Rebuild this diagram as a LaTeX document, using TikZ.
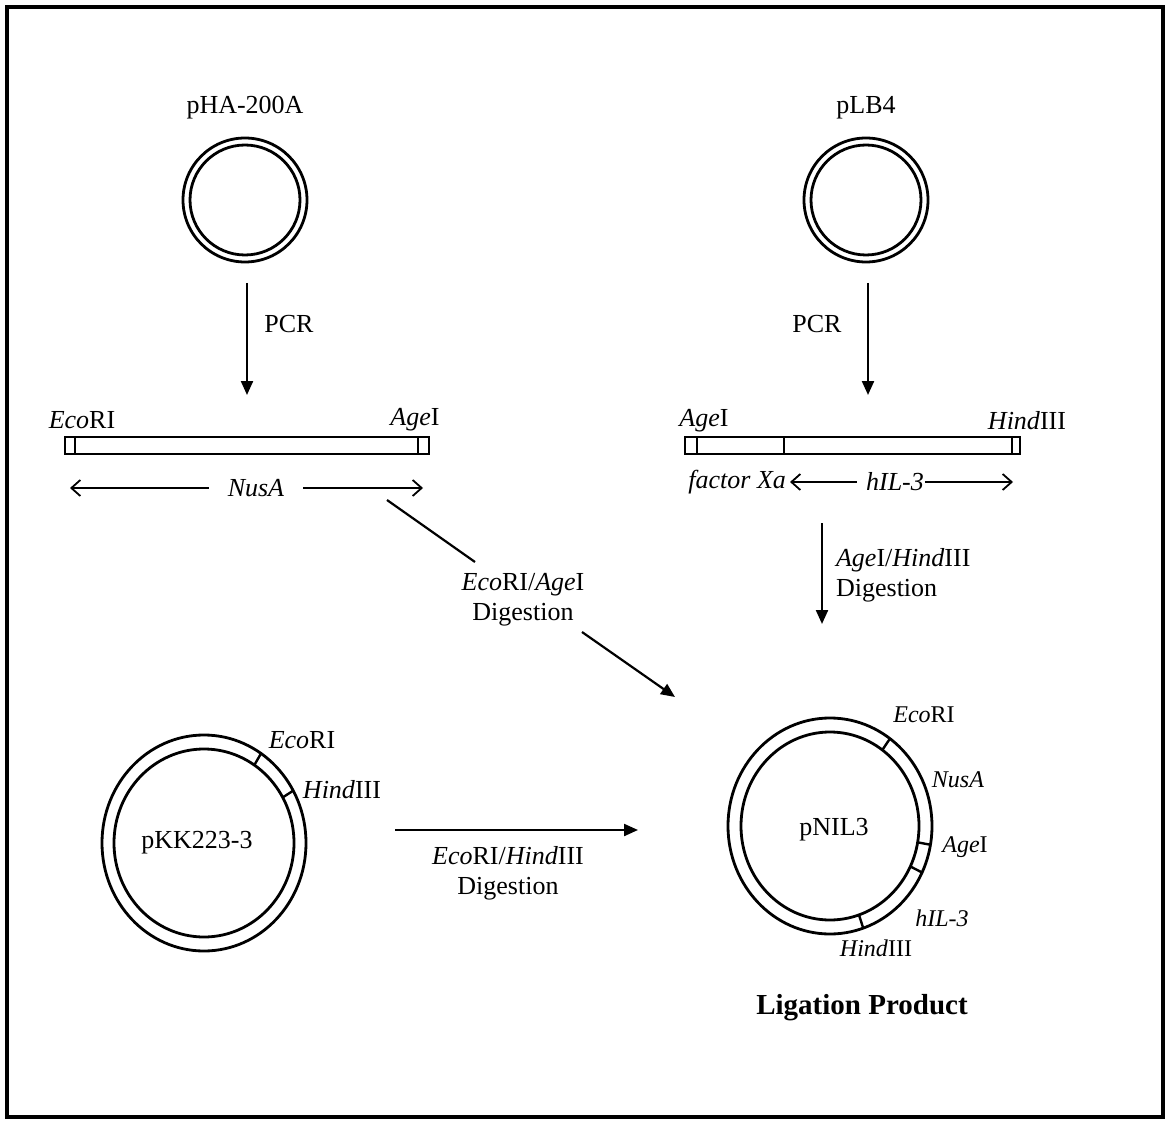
\documentclass[tikz,border=0pt]{standalone}
\usepackage{fontspec}
\setmainfont{Liberation Serif}
\usetikzlibrary{arrows.meta,calc}
\begin{document}
\begin{tikzpicture}[x=1pt,y=-1pt,line width=2.2pt,
  lbl/.style={font=\fontsize{26}{30}\selectfont,inner sep=0pt},
  slbl/.style={font=\fontsize{24}{28}\selectfont,inner sep=0pt},
  blbl/.style={font=\fontsize{29}{34}\selectfont\bfseries,inner sep=0pt},
  fa/.style={-{Triangle[length=14pt,width=12pt]},line width=2.2pt},
  ln/.style={line width=2.2pt},
  barb/.style={line width=1.8pt},
  bx/.style={draw,line width=2.6pt,inner sep=0pt,minimum height=17pt},
  ring/.style={draw,circle,inner sep=0pt,line width=2.8pt},
  rl/.style={line width=2.8pt}]
\useasboundingbox (0,0) rectangle (1170,1123);
\draw[line width=3.2pt] (7,7) rectangle (1163,1117);

% top plasmids
\node[lbl] (tpha) at (245,108) {pHA-200A};
\node[ring,minimum size=124pt] (pha) at (245,200) {};
\draw[rl] (pha.center) circle (55);
\node[lbl] (tplb) at (866,108) {pLB4};
\node[ring,minimum size=124pt] (plb) at (866,200) {};
\draw[rl] (plb.center) circle (55);

% PCR arrows
\coordinate (p1s) at (247,283); \coordinate (p1e) at (247,395);
\draw[fa] (p1s) -- (p1e);
\node[lbl] (pcr1) at (289,324) {PCR};
\coordinate (p2s) at (868,283); \coordinate (p2e) at (868,395);
\draw[fa] (p2s) -- (p2e);
\node[lbl] (pcr2) at (817,324) {PCR};

% left bar
\node[bx,minimum width=364pt] (bar1) at (247,445.5) {};
\draw[ln] (75,437) -- (75,454);
\draw[ln] (418,437) -- (418,454);
\node[lbl] (b1l) at (82,420) {\textit{Eco}RI};
\node[lbl] (b1r) at (415,420) {\textit{Age}I};
\node[lbl,inner xsep=18pt] (nusa) at (256,488) {\textit{NusA}};
\coordinate (nl) at (70,488); \coordinate (nr) at (423,488);
\draw[barb,{Straight Barb[length=9pt,width=16pt]}-] (nl) -- (nusa);
\draw[barb,-{Straight Barb[length=9pt,width=16pt]}] (nusa) -- (nr);

% right bar
\node[bx,minimum width=335pt] (bar2) at (852.5,445.5) {};
\draw[ln] (697,437) -- (697,454);
\draw[ln] (784,437) -- (784,454);
\draw[ln] (1012,437) -- (1012,454);
\node[lbl] (b2l) at (704,421) {\textit{Age}I};
\node[lbl] (b2r) at (1027,421) {\textit{Hind}III};
\node[lbl,anchor=east] (fxa) at (787,482) {\textit{factor Xa}};
\node[lbl,anchor=west] (hil) at (865,482) {\textit{hIL-3}};
\coordinate (fa1) at (790,482); \coordinate (fa2) at (857,482);
\coordinate (ha2) at (1013,482);
\draw[barb,{Straight Barb[length=9pt,width=16pt]}-] (fa1) -- (fa2);
\draw[barb,-{Straight Barb[length=9pt,width=16pt]}] (hil.east) -- (ha2);

% diagonal digestion
\coordinate (d1) at (387,500); \coordinate (d1b) at (475,562);
\coordinate (d2a) at (582,632); \coordinate (d2) at (675,697);
\draw[ln] (d1) -- (d1b);
\draw[fa] (d2a) -- (d2);
\node[lbl,align=center] (dlab) at (523,600) {\textit{Eco}RI/\textit{Age}I\\Digestion};

% right vertical digestion
\coordinate (r1) at (822,523); \coordinate (r2) at (822,624);
\draw[fa] (r1) -- (r2);
\node[lbl,anchor=west,align=left] (rlab) at (835,575) {\textit{Age}I/\textit{Hind}III\\Digestion};

% pKK223-3
\coordinate (pkk) at (204,843);
\draw[rl] (pkk) ellipse [x radius=102, y radius=108];
\draw[rl] (pkk) ellipse [x radius=90, y radius=94];
\foreach \a in {-56,-29}
  \draw[line width=2.4pt] ($(pkk)+({90*cos(\a)},{94*sin(\a)})$) -- ($(pkk)+({102*cos(\a)},{108*sin(\a)})$);
\node[lbl] (pkkt) at (197,843) {pKK223-3};
\node[lbl] (pke) at (302,740) {\textit{Eco}RI};
\node[lbl] (pkh) at (342,790) {\textit{Hind}III};

% bottom arrow
\coordinate (h1) at (395,830); \coordinate (h2) at (638,830);
\draw[fa] (h1) -- (h2);
\node[lbl,align=center] (hlab) at (508,873) {\textit{Eco}RI/\textit{Hind}III\\Digestion};

% pNIL3
\coordinate (pnil) at (830,826);
\draw[rl] (pnil) ellipse [x radius=102, y radius=108];
\draw[rl] (pnil) ellipse [x radius=89, y radius=94];
\foreach \a in {-54,10,25.5,71}
  \draw[line width=2.4pt] ($(pnil)+({89*cos(\a)},{94*sin(\a)})$) -- ($(pnil)+({102*cos(\a)},{108*sin(\a)})$);
\node[lbl] (pnilt) at (834,830) {pNIL3};
\node[slbl] (ne) at (924,715) {\textit{Eco}RI};
\node[slbl] (nn) at (958,780) {\textit{NusA}};
\node[slbl] (na) at (965,847) {\textit{Age}I};
\node[slbl] (nh) at (942,918) {\textit{hIL-3}};
\node[slbl] (nd) at (876,948) {\textit{Hind}III};
\node[blbl] (lig) at (862,1008) {Ligation Product};
\end{tikzpicture}
\end{document}
